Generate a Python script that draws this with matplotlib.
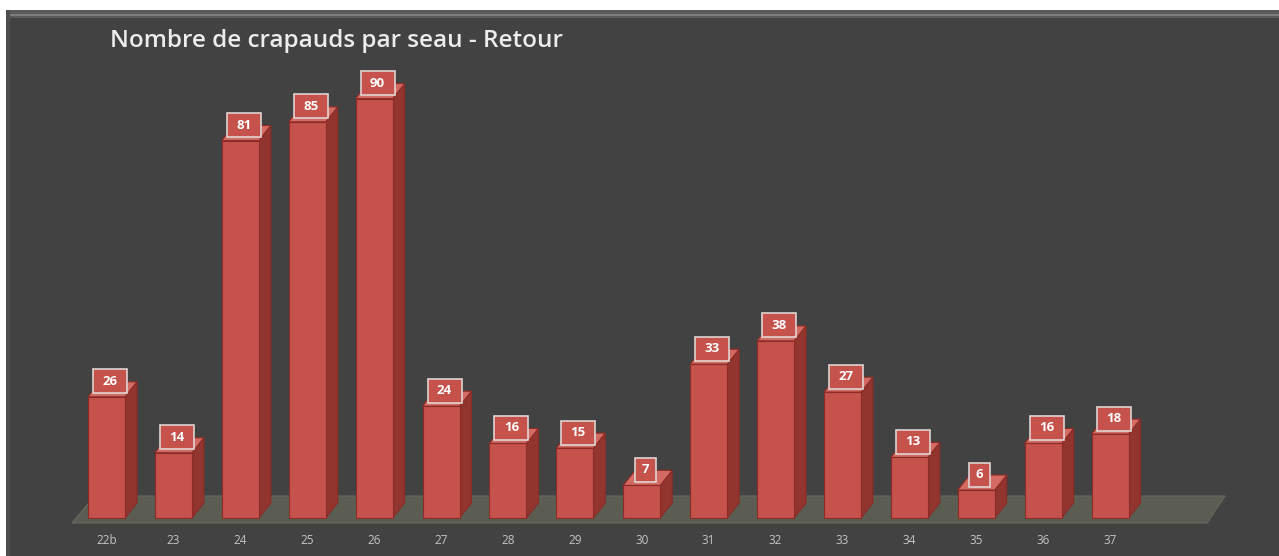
import matplotlib
matplotlib.use('Agg')
import matplotlib.pyplot as plt
from matplotlib.patches import Polygon, Rectangle

plt.rcParams['font.family'] = ['Open Sans', 'DejaVu Sans']

seaux = ['22b', '23', '24', '25', '26', '27', '28', '29', '30', '31', '32', '33', '34', '35', '36', '37']
crapauds = [26, 14, 81, 85, 90, 24, 16, 15, 7, 33, 38, 27, 13, 6, 16, 18]
titre = 'Nombre de crapauds par seau - Retour'

W, H = 1279, 556
fond = '#424242'
rouge = '#c5524b'
rouge_cote = '#93352f'
rouge_haut = '#d36b63'
bord = '#8c2b27'

# échelle en pixels : une barre tous les 66.9 px, 4.66 px par crapaud
px_x = 66.9
px_y = 4.66
x0 = 106.5   # centre de la première barre
y0 = 518     # base des barres

fig = plt.figure(figsize=(W / 100, H / 100), dpi=100)
fig.patch.set_facecolor(fond)
ax = fig.add_axes([0, 0, 1, 1])
ax.set_facecolor(fond)
ax.set_xlim(-x0 / px_x, (W - x0) / px_x)
ax.set_ylim(-(H - y0) / px_y, y0 / px_y)
ax.axis('off')

# cadre en haut et à gauche
fig.patches.append(Rectangle((0, 1 - 10 / H), 1, 10 / H, transform=fig.transFigure,
                             facecolor='white', edgecolor='none', zorder=0))
fig.patches.append(Rectangle((0, 0), 6 / W, 1, transform=fig.transFigure,
                             facecolor='white', edgecolor='none', zorder=0))
fig.patches.append(Rectangle((6 / W, 1 - 18 / H), 1, 8 / H, transform=fig.transFigure,
                             facecolor='#5a5a5a', edgecolor='none', zorder=0))
fig.patches.append(Rectangle((6 / W, 1 - 16 / H), 1, 2 / H, transform=fig.transFigure,
                             facecolor='#7c7c7c', edgecolor='none', zorder=0))
fig.patches.append(Rectangle((6 / W, 0), 4 / W, 1 - 10 / H, transform=fig.transFigure,
                             facecolor='#4e4e4e', edgecolor='none', zorder=0))

largeur = 37 / px_x
dx = 12 / px_x
dy = 15 / px_y
n = len(seaux)
xs = list(range(n))

# sol
sol_bas = -5 / px_y
sol_haut = 22 / px_y
sol = Polygon([(-34.5 / px_x, sol_bas), (-12 / px_x, sol_haut),
               ((1225 - x0) / px_x, sol_haut), ((1207 - x0) / px_x, sol_bas)],
              closed=True, facecolor='#5b5d52', edgecolor='#676a5e', lw=0.8, zorder=1)
ax.add_patch(sol)

ax.bar(xs, crapauds, width=largeur, color=rouge, edgecolor=bord, linewidth=0.8, zorder=3)

for x, v in zip(xs, crapauds):
    g = x - largeur / 2
    d = x + largeur / 2
    cote = Polygon([(d, 0), (d + dx, dy), (d + dx, v + dy), (d, v)],
                   closed=True, facecolor=rouge_cote, edgecolor=bord, lw=0.8, zorder=2)
    haut = Polygon([(g, v), (g + dx, v + dy), (d + dx, v + dy), (d, v)],
                   closed=True, facecolor=rouge_haut, edgecolor=bord, lw=0.8, zorder=2)
    ax.add_patch(cote)
    ax.add_patch(haut)

    # étiquette encadrée
    cx = x + 3.5 / px_x
    cy = v + 15.5 / px_y
    bw = (21 if v < 10 else 34) / px_x
    bh = 24 / px_y
    ax.add_patch(Rectangle((cx - bw / 2, cy - bh / 2), bw, bh, facecolor=rouge,
                           edgecolor='#e0d4d2', lw=1.2, zorder=4))
    ax.text(cx, cy, str(v), ha='center', va='center',
            color='white', fontsize=9.5, fontweight='bold', zorder=5)
    ax.text(x, -23 / px_y, seaux[x], ha='center', va='center',
            color='#c4c4c4', fontsize=8.5, zorder=5)

fig.text(110 / W, 1 - 47 / H, titre, ha='left', va='baseline', color='#ececec',
         fontsize=17.5, fontweight='semibold')

fig.savefig('out.png', dpi=100, facecolor=fond)
